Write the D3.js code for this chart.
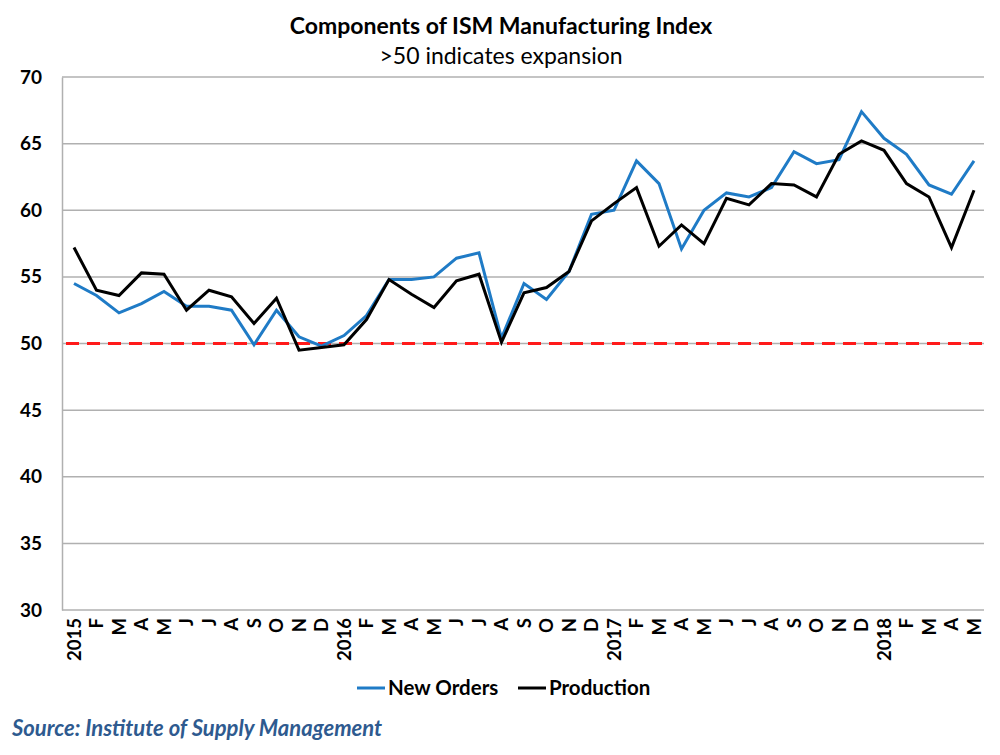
<!DOCTYPE html>
<html><head><meta charset="utf-8">
<script src="https://cdn.jsdelivr.net/npm/d3@7"></script>
<style>body{margin:0;background:#fff}svg{display:block}</style>
</head><body>
<script>
const categories = ["2015","F","M","A","M","J","J","A","S","O","N","D",
  "2016","F","M","A","M","J","J","A","S","O","N","D",
  "2017","F","M","A","M","J","J","A","S","O","N","D",
  "2018","F","M","A","M"];
const newOrders = [54.5,53.6,52.3,53.0,53.9,52.8,52.8,52.5,49.9,52.5,50.5,49.8,
  50.6,52.1,54.8,54.8,55.0,56.4,56.8,50.4,54.5,53.3,55.4,59.7,
  60.0,63.7,62.0,57.1,60.0,61.3,61.0,61.7,64.4,63.5,63.8,67.4,
  65.4,64.2,61.9,61.2,63.7];
const production = [57.2,54.0,53.6,55.3,55.2,52.5,54.0,53.5,51.5,53.4,49.5,49.7,
  49.9,51.8,54.8,53.7,52.7,54.7,55.2,50.1,53.8,54.2,55.4,59.2,
  60.5,61.7,57.3,58.9,57.5,60.9,60.4,62.0,61.9,61.0,64.2,65.2,
  64.5,62.0,61.0,57.2,61.5];
const yTicks = [30,35,40,45,50,55,60,65,70];
const threshold = 50;

const W = 1000, H = 755;
const svg = d3.select("body").append("svg").attr("width", W).attr("height", H);
const font = "Lato, 'Open Sans', sans-serif";
const pLeft = 62, pRight = 984, pTop = 77, pBottom = 610;

const y = d3.scaleLinear().domain([30,70]).range([pBottom, pTop]);
const x = d3.scalePoint().domain(d3.range(categories.length)).range([74, 974]);

// title
svg.append("text").attr("x", 501).attr("y", 34).attr("text-anchor","middle")
  .attr("font-family", font).attr("font-weight","bold").attr("font-size", 23)
  .attr("fill","#000").text("Components of ISM Manufacturing Index");
svg.append("text").attr("x", 501).attr("y", 64).attr("text-anchor","middle")
  .attr("font-family", font).attr("font-size", 23)
  .attr("fill","#000").text(">50 indicates expansion");

// gridlines
svg.append("g").selectAll("line").data(yTicks).join("line")
  .attr("x1", pLeft).attr("x2", pRight)
  .attr("y1", d => y(d)).attr("y2", d => y(d))
  .attr("stroke", "#b0b0b0").attr("stroke-width", 1.5);

// y axis
const yAxis = d3.axisLeft(y).tickValues(yTicks).tickSize(0).tickPadding(20);
const gy = svg.append("g").attr("transform", `translate(${pLeft},0)`).call(yAxis);
gy.select(".domain").attr("stroke","#b0b0b0").attr("stroke-width",1.5);
gy.selectAll("text").attr("font-family", font).attr("font-weight","bold")
  .attr("font-size", 19).attr("fill","#000");

// x axis labels
const xAxis = d3.axisBottom(x).tickFormat(i => categories[i]).tickSize(0);
const gx = svg.append("g").attr("transform", `translate(0,${pBottom})`).call(xAxis);
gx.select(".domain").remove();
gx.selectAll("text").attr("font-family", font).attr("font-weight","bold")
  .attr("font-size", 18.5).attr("fill","#000")
  .attr("transform","rotate(-90)").attr("text-anchor","end")
  .attr("dy","0.35em").attr("y", 0).attr("x", -8);

// threshold
svg.append("line").attr("x1", pLeft+4).attr("x2", pRight)
  .attr("y1", y(threshold)).attr("y2", y(threshold))
  .attr("stroke","#ff1a1a").attr("stroke-width",3).attr("stroke-dasharray","13,8");

const line = d3.line().x((d,i) => x(i)).y(d => y(d));
svg.append("path").datum(newOrders).attr("d", line).attr("fill","none")
  .attr("stroke","#1f7bc6").attr("stroke-width",3);
svg.append("path").datum(production).attr("d", line).attr("fill","none")
  .attr("stroke","#000").attr("stroke-width",3);

// legend
const legend = [["New Orders","#1f7bc6",357],["Production","#000",518]];
legend.forEach(([name,c,lx]) => {
  svg.append("line").attr("x1",lx).attr("x2",lx+28).attr("y1",688).attr("y2",688)
    .attr("stroke",c).attr("stroke-width",3);
  svg.append("text").attr("x",lx+31).attr("y",695).attr("font-family",font)
    .attr("font-weight","bold").attr("font-size",20.5).attr("fill","#000").text(name);
});

// source
svg.append("text").attr("x",12).attr("y",736).attr("font-family",font)
  .attr("font-weight","bold").attr("font-style","italic").attr("font-size",22)
  .attr("fill","#2e5a8f").text("Source: Institute of Supply Management");
</script>
</body></html>
